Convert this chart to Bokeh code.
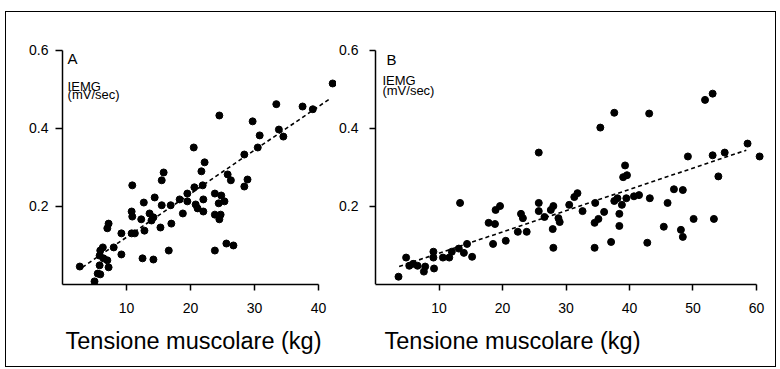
from bokeh.plotting import figure
from bokeh.layouts import row
from bokeh.models import FixedTicker, Range1d, Title, LinearAxis
from bokeh.core.properties import value
from bokeh.embed import file_html
from bokeh.resources import INLINE

FONT = "Liberation Sans"

# ---- Panel A data (tension kg, IEMG mV/sec) ----
a_tension = [42.2, 33.4, 37.5, 39.1, 24.5, 29.7, 33.8, 34.5, 30.8, 20.5,
             30.5, 28.4, 22.2, 15.8, 15.5, 21.7, 25.8, 26.3, 28.9, 28.4,
             10.9, 20.6, 21.9, 23.8, 24.8, 25.3, 22.0, 24.4, 20.8, 21.1,
             22.0, 23.8, 24.7, 24.5, 23.8, 25.6, 26.7, 12.7, 14.4, 15.5,
             16.9, 18.3, 19.5, 19.5, 18.8, 10.8, 10.9, 12.3, 13.6, 14.2,
             13.9, 15.3, 17.0, 12.8, 7.2, 7.0, 9.2, 10.8, 11.3, 8.0,
             9.2, 6.3, 5.9, 5.8, 6.4, 7.0, 7.2, 5.8, 5.5, 5.9,
             5.0, 2.7, 12.5, 14.2, 16.6]
a_iemg = [0.515, 0.462, 0.456, 0.449, 0.433, 0.418, 0.397, 0.379, 0.382, 0.351,
          0.351, 0.333, 0.313, 0.287, 0.267, 0.290, 0.282, 0.267, 0.269, 0.251,
          0.254, 0.249, 0.254, 0.233, 0.228, 0.213, 0.218, 0.208, 0.205, 0.195,
          0.187, 0.179, 0.179, 0.167, 0.087, 0.105, 0.100, 0.210, 0.223, 0.203,
          0.203, 0.218, 0.233, 0.213, 0.182, 0.187, 0.174, 0.167, 0.182, 0.172,
          0.164, 0.146, 0.156, 0.138, 0.156, 0.144, 0.131, 0.131, 0.131, 0.095,
          0.077, 0.095, 0.087, 0.074, 0.067, 0.062, 0.044, 0.049, 0.028, 0.026,
          0.008, 0.046, 0.067, 0.064, 0.087]
a_fit_x = [3.1, 41.6]
a_fit_y = [0.044, 0.474]

# ---- Panel B data ----
b_tension = [3.6, 4.8, 5.3, 5.9, 6.6, 7.6, 7.8, 9.2, 9.1, 9.1,
             10.6, 11.6, 12.0, 13.1, 13.9, 14.4, 15.2, 13.3, 17.8, 18.8,
             18.9, 19.6, 18.5, 20.5, 22.4, 23.8, 22.9, 23.2, 25.7, 25.7,
             26.6, 27.6, 28.0, 28.8, 29.0, 27.9, 28.0, 30.5, 31.3, 31.8,
             32.6, 34.6, 35.1, 34.5, 34.5, 36.0, 37.1, 37.6, 38.1, 38.8,
             38.4, 38.4, 39.5, 40.7, 41.5, 43.2, 42.8, 45.4, 46.0, 47.0,
             48.4, 48.1, 48.4, 50.1, 53.3, 54.0, 49.2, 53.1, 55.0, 58.6,
             60.5, 51.9, 53.1, 43.1, 37.6, 35.4, 25.7, 39.3, 39.0, 39.6]
b_iemg = [0.020, 0.069, 0.048, 0.053, 0.048, 0.033, 0.046, 0.041, 0.084, 0.069,
          0.069, 0.069, 0.084, 0.092, 0.081, 0.104, 0.071, 0.209, 0.158, 0.155,
          0.191, 0.201, 0.104, 0.112, 0.135, 0.135, 0.181, 0.170, 0.209, 0.188,
          0.173, 0.191, 0.201, 0.170, 0.160, 0.142, 0.094, 0.204, 0.224, 0.234,
          0.188, 0.209, 0.168, 0.158, 0.094, 0.186, 0.109, 0.214, 0.221, 0.204,
          0.181, 0.150, 0.221, 0.226, 0.229, 0.221, 0.107, 0.148, 0.209, 0.244,
          0.242, 0.140, 0.122, 0.168, 0.168, 0.277, 0.328, 0.331, 0.338, 0.361,
          0.328, 0.473, 0.489, 0.438, 0.440, 0.402, 0.338, 0.305, 0.275, 0.280]
b_fit_x = [3.7, 58.4]
b_fit_y = [0.046, 0.344]

y_ticks = [0.2, 0.4, 0.6]
a_x_ticks = [10, 20, 30, 40]
b_x_ticks = [10, 20, 30, 40, 50, 60]
x_title = "Tensione muscolare (kg)"
y_title_1 = "IEMG"
y_title_2 = "(mV/sec)"


def style_axis(ax):
    ax.axis_line_width = 1.5
    ax.axis_line_color = "black"
    ax.major_tick_line_width = 1.5
    ax.major_tick_line_color = "black"
    ax.minor_tick_line_color = None
    ax.major_label_text_font = FONT
    ax.major_label_text_font_size = "14px"
    ax.major_label_text_color = "black"
    ax.major_tick_in = 0


def make_panel(xs, ys, fx, fy, xr, xbounds, xticks, letter, lab_x, lab_y,
               w, h, mbl, mbt, mbb, mbr, title_offset, ystandoff,
               split_y_axis=False):
    p = figure(output_backend="svg", toolbar_location=None, tools="",
               width=w, height=h,
               x_range=Range1d(*xr), y_range=Range1d(0, 0.62),
               min_border_left=mbl, min_border_top=mbt,
               min_border_bottom=mbb, min_border_right=mbr)
    p.outline_line_color = None
    p.xgrid.visible = False
    p.ygrid.visible = False
    p.background_fill_color = None
    p.border_fill_color = None

    xa = p.xaxis[0]
    ya = p.yaxis[0]
    style_axis(xa)
    style_axis(ya)
    xa.ticker = FixedTicker(ticks=xticks)
    xa.bounds = xbounds
    xa.major_tick_out = 6
    xa.major_label_standoff = 12
    ya.ticker = FixedTicker(ticks=y_ticks)
    ya.bounds = (0, 0.6)
    ya.major_tick_out = 7
    ya.major_label_standoff = ystandoff

    if split_y_axis:
        # left axis keeps only the tick labels; the rule and ticks are drawn
        # by a second axis fixed at x = 0 with ticks pointing left
        ya.axis_line_color = None
        ya.major_tick_line_color = None
        ya.major_tick_out = 0
        rule = LinearAxis(fixed_location=0, ticker=FixedTicker(ticks=y_ticks),
                          bounds=(0, 0.6))
        style_axis(rule)
        rule.major_tick_out = 0
        rule.major_tick_in = 7
        rule.major_label_standoff = 0
        rule.major_label_overrides = {0.2: "", 0.4: "", 0.6: ""}
        rule.major_label_text_color = None
        p.add_layout(rule, "right")

    p.line(fx, fy, line_color="black", line_width=1.6, line_dash="4 3")
    p.scatter(xs, ys, size=7, fill_color="black", line_color="black")

    p.text(x=[lab_x[0]], y=[lab_y[0]], text=[letter], text_font=value(FONT),
           text_font_size="15px", text_baseline="top", text_align="left",
           text_color="black")
    p.text(x=[lab_x[1], lab_x[1]], y=[lab_y[1], lab_y[2]],
           text=[y_title_1, y_title_2], text_font=value(FONT),
           text_font_size="13px", text_baseline="top", text_align="left",
           text_color="black")

    p.add_layout(Title(text=x_title, align="left", offset=title_offset,
                       text_font=FONT, text_font_size="23.5px",
                       text_font_style="normal", text_color="black",
                       standoff=21), "below")
    return p


pA = make_panel(a_tension, a_iemg, a_fit_x, a_fit_y, (0, 42.8), (0, 40),
                a_x_ticks, "A", [0.8, 0.8], [0.600, 0.526, 0.505],
                w=330, h=354, mbl=56, mbt=30, mbb=82, mbr=0,
                title_offset=3, ystandoff=7)
pB = make_panel(b_tension, b_iemg, b_fit_x, b_fit_y, (-0.97, 61.9), (0, 60),
                b_x_ticks, "B", [1.7, 1.07], [0.598, 0.542, 0.517],
                w=439, h=354, mbl=31, mbt=29, mbb=81, mbr=7,
                title_offset=15, ystandoff=11, split_y_axis=True)

layout = row(pA, pB, styles={"border": "1px solid black",
                             "margin-top": "11px", "margin-left": "5px",
                             "background-color": "white"})

open("out.html", "w").write(file_html(layout, INLINE))
